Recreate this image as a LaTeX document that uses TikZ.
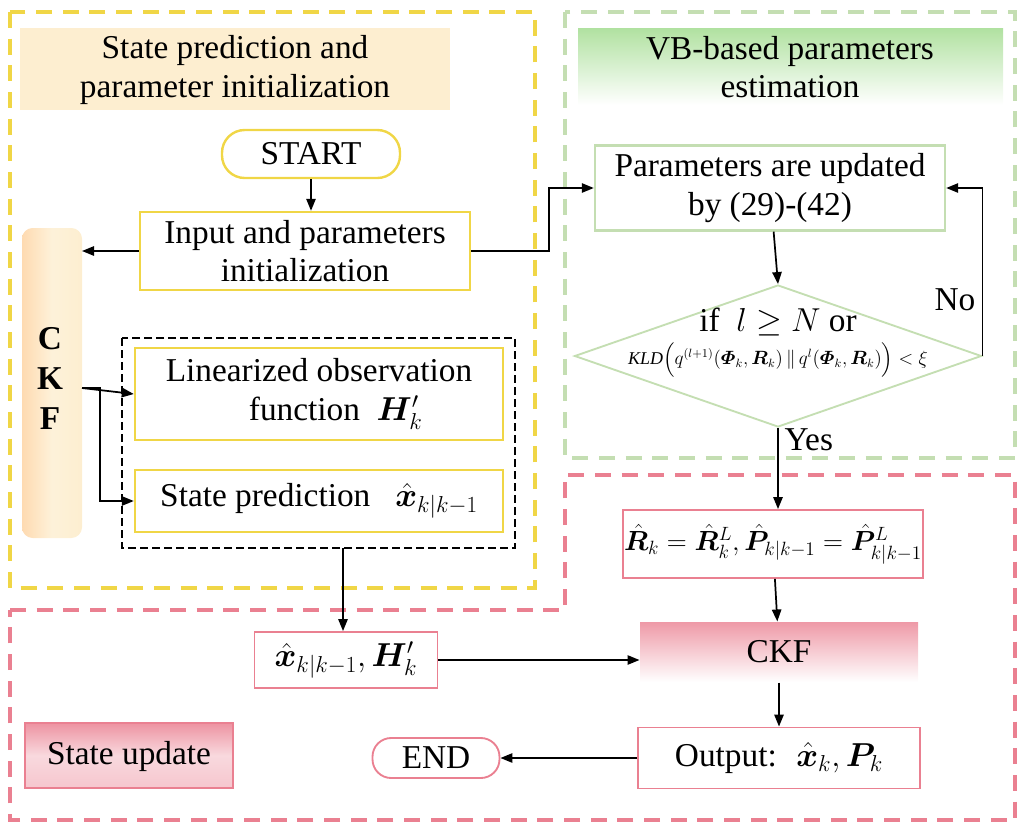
\documentclass[tikz,border=0pt]{standalone}
\usepackage{amsmath,bm}
\usepackage{fontspec}
\setmainfont{Liberation Serif}
\usetikzlibrary{shapes.geometric,arrows.meta}
\definecolor{ylw}{RGB}{240,214,70}
\definecolor{grn}{RGB}{196,222,178}
\definecolor{pnk}{RGB}{234,128,145}
\definecolor{org}{RGB}{253,238,208}
\tikzset{every picture/.style={line width=0.75pt},
  txt/.style={font=\fontsize{25}{29}\selectfont,align=center,inner sep=0.75pt},
  ybox/.style={draw=ylw,line width=1.8pt,txt},
  gbox/.style={draw=grn,line width=1.8pt,txt},
  pbox/.style={draw=pnk,line width=1.4pt,txt},
  area/.style={dash pattern=on 12pt off 8pt,line width=3pt},
  arr/.style={-{Triangle[length=9pt,width=7pt]},line width=1.3pt}}

\begin{document}
\begin{tikzpicture}[x=0.75pt,y=0.75pt,yscale=-1,xscale=1]
\useasboundingbox (0,0) rectangle (1025,829);

%Areas
\draw[area,ylw] (10,12) rectangle (535,588);
\draw[area,grn] (565,12) rectangle (1015,458);
\draw[area,pnk] (10,610) -- (565,610) -- (565,475) -- (1015,475) -- (1015,820) -- (10,820) -- cycle;

%Titles
\fill[org] (20,28) rectangle (450,110);
\node[txt] (tPred) at (235,70) {State prediction and\\parameter initialization};
\shade[top color=grn!90!green,bottom color=white] (578,28) rectangle (1003,105);
\node[txt] (tVB) at (790,67) {VB-based parameters\\estimation};
\shade[top color=pnk!85,bottom color=pnk!45,middle color=pnk!30] (25,723) rectangle (233,788);
\draw[pnk,line width=1.4pt] (25,723) rectangle (233,788);
\node[txt] (tUpd) at (129,756) {State update};

%CKF bar
\shade[rounded corners=8pt,left color=org!60!orange!60,right color=org,middle color=org!80] (22,228) rectangle (82,538);
\node[txt,font=\fontsize{25}{30}\selectfont\bfseries] (ckf) at (50,378) {C\\K\\F};
\coordinate (ckfIn) at (82,251);
\coordinate (ckfOut) at (82,388);

%Nodes
\node[ybox,rounded corners=17pt,minimum width=178pt*0.75,minimum height=48pt*0.75] (start) at (311,154) {START};
\node[ybox,minimum width=330pt*0.75,minimum height=78pt*0.75] (init) at (305,251) {Input and parameters\\initialization};
\draw[line width=2.2pt,dash pattern=on 6pt off 3pt] (122,338) rectangle (515,548);
\coordinate (dashB) at (343,548);
\node[ybox,minimum width=368pt*0.75,minimum height=92pt*0.75] (lin) at (319,394) {Linearized observation\\ \quad function \ $\bm{H}'_{k}$};
\node[ybox,minimum width=368pt*0.75,minimum height=62pt*0.75] (pred) at (319,501) {State prediction \ \ $\hat{\bm{x}}_{k|k-1}$};

\node[gbox,minimum width=350pt*0.75,minimum height=85pt*0.75] (upd) at (770,188) {Parameters are updated\\by (29)-(42)};
\node[diamond,draw=grn,line width=1.4pt,minimum width=407pt*0.75,minimum height=142pt*0.75,inner sep=0pt,align=center] (dec) at (778,356) {};
\node[txt] (decT) at (778,322) {if \ $l\geq N$ or};
\node[inner sep=0pt,font=\fontsize{13.5}{15}\selectfont] (decK) at (778,360) {$\mathit{KLD}\Big(q^{(l+1)}(\bm{\varPhi}_k,\bm{R}_k)\,\|\,q^{l}(\bm{\varPhi}_k,\bm{R}_k)\Big)<\xi$};

\node[pbox,font=\fontsize{20}{24}\selectfont,minimum width=283pt*0.75,minimum height=68pt*0.75] (rset) at (773,544) {$\hat{\bm{R}}_k=\hat{\bm{R}}_k^{L},\hat{\bm{P}}_{k|k-1}=\hat{\bm{P}}_{k|k-1}^{L}$};
\shade[top color=pnk!80,bottom color=white] (640,622) rectangle (918,682);
\node[txt,minimum width=278pt*0.75,minimum height=60pt*0.75] (ckfB) at (779,652) {CKF};
\node[pbox,minimum width=183pt*0.75,minimum height=56pt*0.75] (xh) at (346,660) {$\hat{\bm{x}}_{k|k-1},\bm{H}'_k$};
\node[pbox,minimum width=282pt*0.75,minimum height=61pt*0.75] (out) at (779,758) {Output: \ $\hat{\bm{x}}_k,\bm{P}_k$};
\node[pbox,rounded corners=14pt,minimum width=127pt*0.75,minimum height=40pt*0.75] (endN) at (436,758) {END};

%Connectors
\draw[arr] (start.south) -- (start.south |- init.north);
\draw[arr] (init.west) -- (ckfIn);
\draw[arr] (init.east) -- ++(78,0) |- (upd.west);
\draw[arr] (ckfOut) -- (lin.west);
\draw[arr] (ckfOut) -- ++(18,0) |- (pred.west);
\draw[arr] (upd) -- (dec.north);
\draw[arr] (dec.east) -- (dec.east |- upd.east) -- (upd.east);
\node[txt] (no) at (955,300) {No};
\draw[arr] (dec.south) -- (rset.north -| dec.south);
\node[txt,anchor=west] (yes) at (783,440) {Yes};
\draw[arr] (rset) -- (ckfB);
\draw[arr] (ckfB) -- (out);
\draw[arr] (out) -- (endN);
\draw[arr] (dashB) -- (xh.north -| dashB);
\draw[arr] (xh.east) -- (xh.east -| ckfB.west);
\end{tikzpicture}
\end{document}
